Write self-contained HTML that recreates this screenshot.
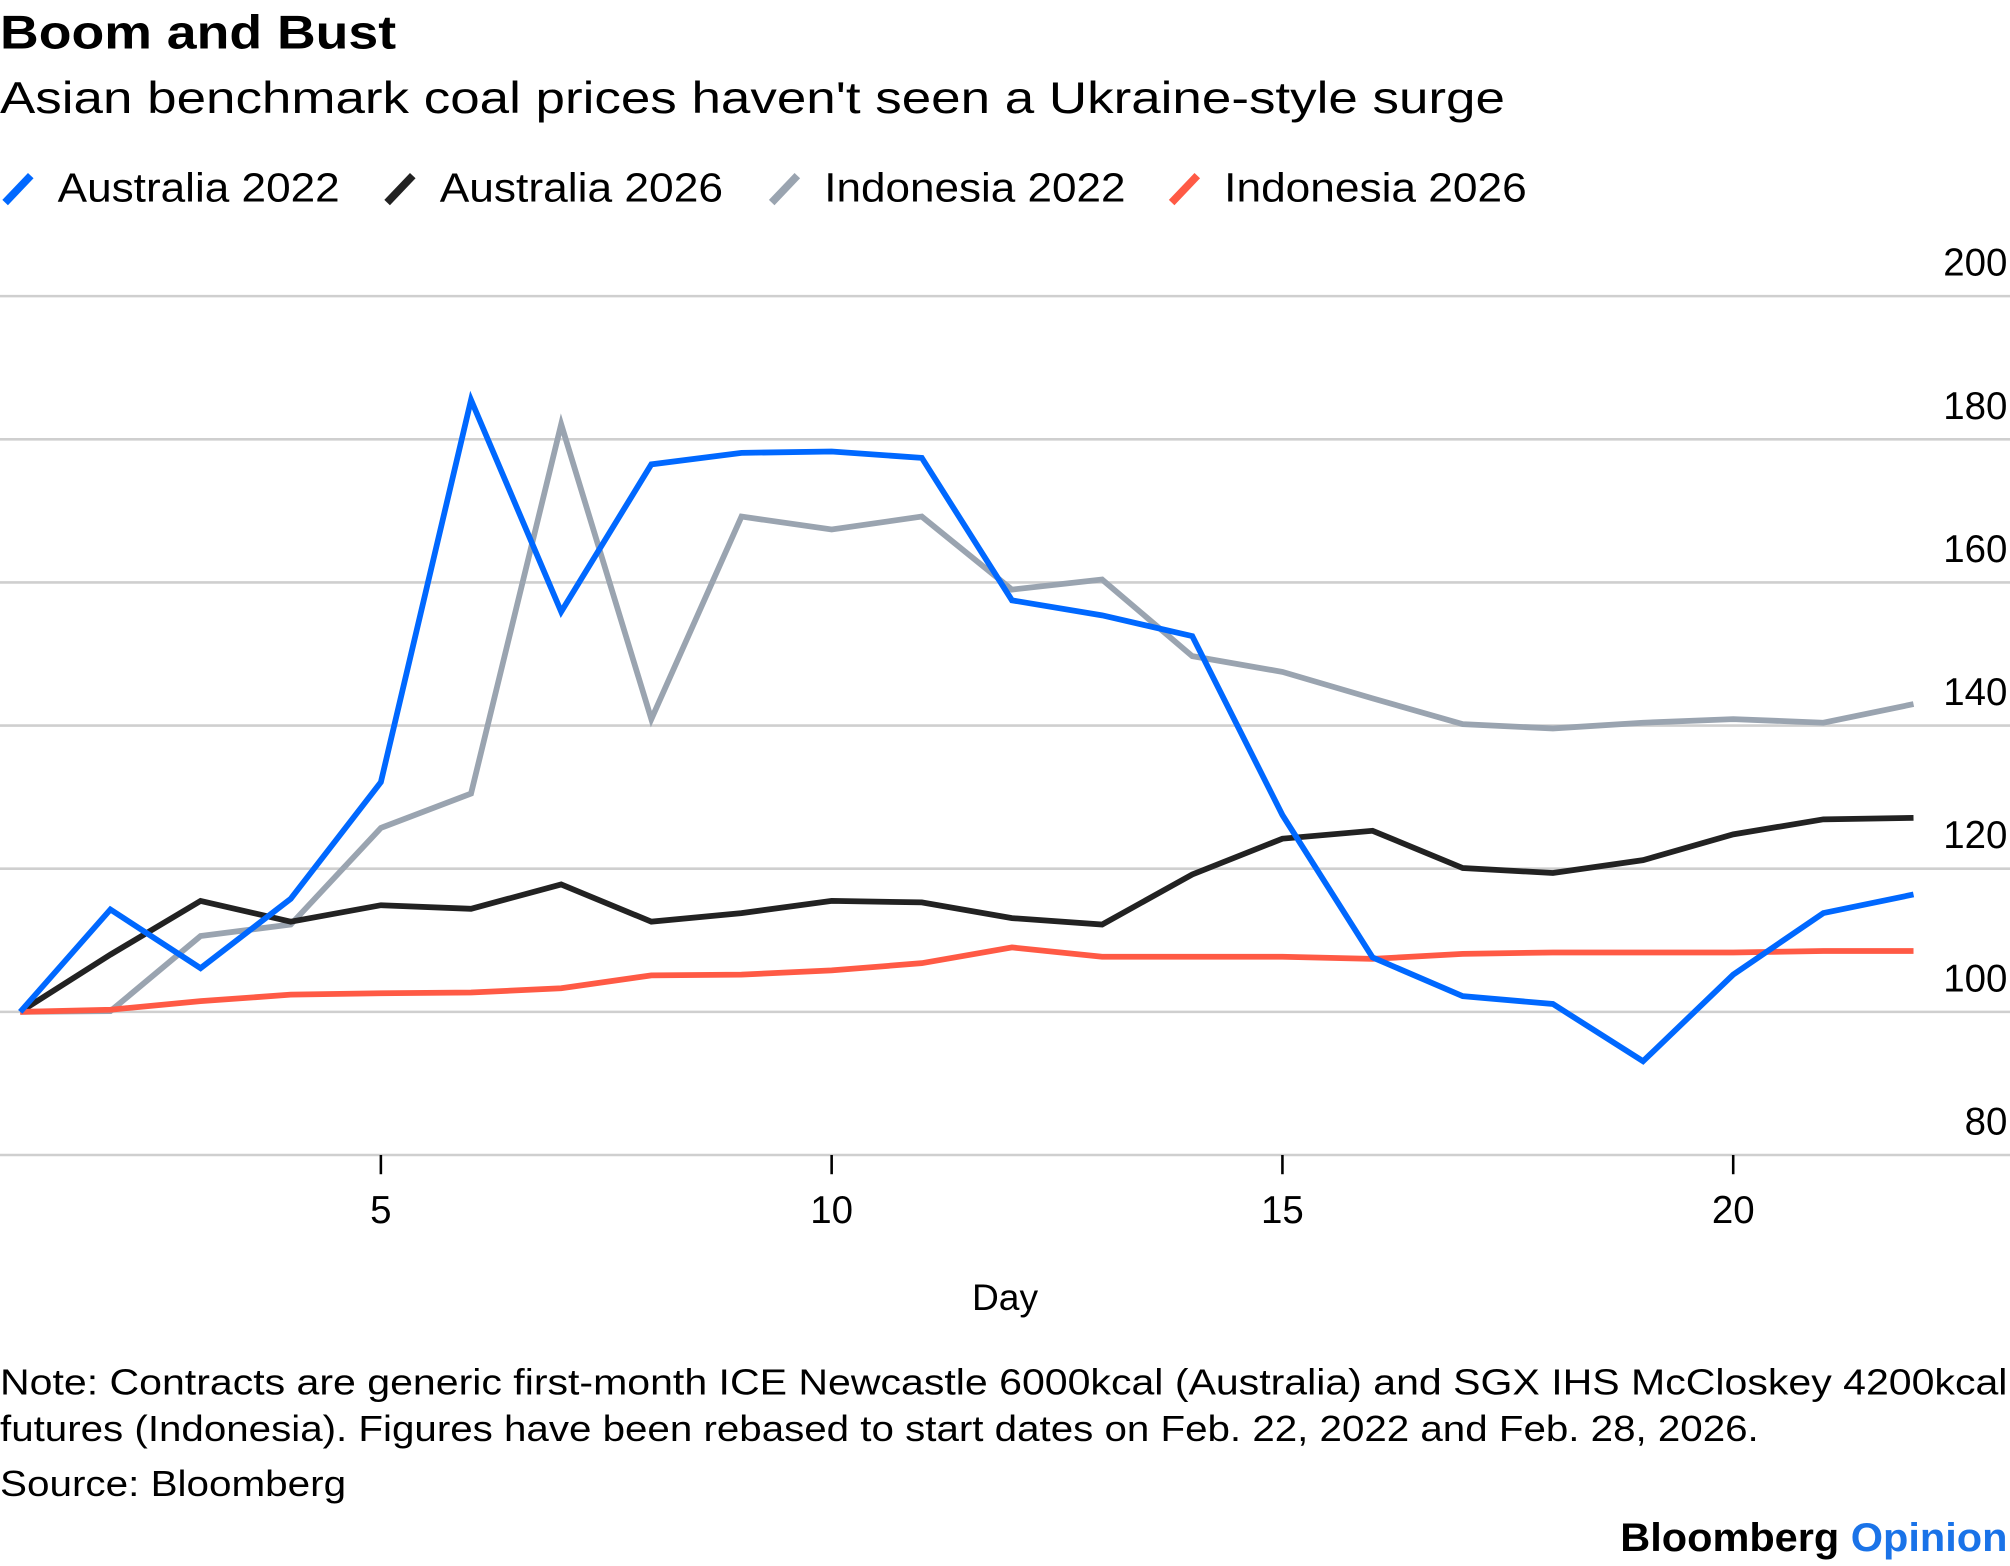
<!DOCTYPE html>
<html><head><meta charset="utf-8"><style>
html,body{margin:0;padding:0;background:#fff;}
svg{display:block;font-family:"Liberation Sans",Arial,sans-serif;}
</style></head><body>
<svg id="chart" width="2010" height="1566" viewBox="0 0 1568 1221.6" xmlns="http://www.w3.org/2000/svg">
<text x="0" y="38" font-size="37" font-weight="bold" fill="#000" textLength="309" lengthAdjust="spacingAndGlyphs">Boom and Bust</text>
<text x="0" y="88" font-size="35" fill="#000" textLength="1174" lengthAdjust="spacingAndGlyphs">Asian benchmark coal prices haven't seen a Ukraine-style surge</text>
<g id="legend"></g>
<g id="grid"></g>
<g id="series"></g>
<text x="784" y="1022" font-size="29" text-anchor="middle">Day</text>
<text x="0" y="1088" font-size="28" textLength="1566" lengthAdjust="spacingAndGlyphs">Note: Contracts are generic first-month ICE Newcastle 6000kcal (Australia) and SGX IHS McCloskey 4200kcal</text>
<text x="0" y="1124" font-size="28" textLength="1372" lengthAdjust="spacingAndGlyphs">futures (Indonesia). Figures have been rebased to start dates on Feb. 22, 2022 and Feb. 28, 2026.</text>
<text x="0" y="1167" font-size="28" textLength="270" lengthAdjust="spacingAndGlyphs">Source: Bloomberg</text>
<text x="1566" y="1210" font-size="31" font-weight="bold" text-anchor="end" textLength="302" lengthAdjust="spacingAndGlyphs"><tspan fill="#000">Bloomberg </tspan><tspan fill="#1a73e8">Opinion</tspan></text>
</svg>
<script>
const days = [1,2,3,4,5,6,7,8,9,10,11,12,13,14,15,16,17,18,19,20,21,22];
const australia2022 = [100,114.3,106.1,115.8,132.1,185.5,155.9,176.5,178.1,178.3,177.4,157.5,155.4,152.5,127.5,107.6,102.2,101.1,93.1,105.2,113.8,116.4];
const australia2026 = [100,108,115.5,112.6,114.9,114.4,117.8,112.6,113.8,115.5,115.3,113.1,112.2,119.2,124.2,125.3,120.1,119.4,121.2,124.8,126.9,127.1];
const indonesia2022 = [100,100.1,110.6,112.2,125.7,130.5,182.1,140.9,169.2,167.4,169.2,159,160.4,149.7,147.5,143.8,140.2,139.6,140.4,140.9,140.4,143];
const indonesia2026 = [100,100.3,101.5,102.4,102.6,102.7,103.3,105.1,105.2,105.8,106.8,109,107.7,107.7,107.7,107.4,108.1,108.3,108.3,108.3,108.5,108.5];
const yTicks = [80,100,120,140,160,180,200];
const xTicks = [5,10,15,20];
const seriesNames = ["Australia 2022","Australia 2026","Indonesia 2022","Indonesia 2026"];
const seriesColors = ["#0068ff","#222222","#9aa4b0","#ff5a45"];
const seriesData = [australia2022,australia2026,indonesia2022,indonesia2026];

const NS="http://www.w3.org/2000/svg";
function xS(d){return 15.8+(d-1)*70.33;}
function yS(v){return 231+(200-v)*5.5833;}
function mk(tag,attrs,parent){const e=document.createElementNS(NS,tag);for(const k in attrs)e.setAttribute(k,attrs[k]);parent.appendChild(e);return e;}

const grid=document.getElementById('grid');
yTicks.forEach(t=>{
  const l=mk('line',{x1:0,x2:1568,y1:yS(t),y2:yS(t),stroke:'#cfcfcf','stroke-width':2},grid);
  
  
  const tx=mk('text',{x:1566,y:yS(t)-16,'font-size':30,'text-anchor':'end',fill:'#000'},grid);
  tx.textContent=t;
  
  
});
xTicks.forEach(t=>{
  const l=mk('line',{x1:xS(t),x2:xS(t),y1:901,y2:916,stroke:'#000','stroke-width':2},grid);
  
  
  const tx=mk('text',{x:xS(t),y:954,'font-size':30,'text-anchor':'middle',fill:'#000'},grid);
  tx.textContent=t;
  
  
});

const sg=document.getElementById('series');
[2,1,3,0].forEach(i=>{
  const pts=seriesData[i].map((v,j)=>xS(days[j])+','+yS(v)).join(' ');
  const p=mk('polyline',{points:pts,fill:'none',stroke:seriesColors[i],'stroke-width':4.5,'stroke-linejoin':'miter'},sg);
  
  
});

const lg=document.getElementById('legend');
const lx=[4,302,602,914];
const lw=[220,221,235,236];
seriesNames.forEach((n,i)=>{
  const g=mk('g',{},lg);
  
  
  mk('line',{x1:lx[i],y1:158,x2:lx[i]+20,y2:137,stroke:seriesColors[i],'stroke-width':6},g);
  const t=mk('text',{x:lx[i]+41,y:157,'font-size':32,fill:'#000',textLength:lw[i],lengthAdjust:'spacingAndGlyphs'},g);
  t.textContent=n;
});
</script>
</body></html>
